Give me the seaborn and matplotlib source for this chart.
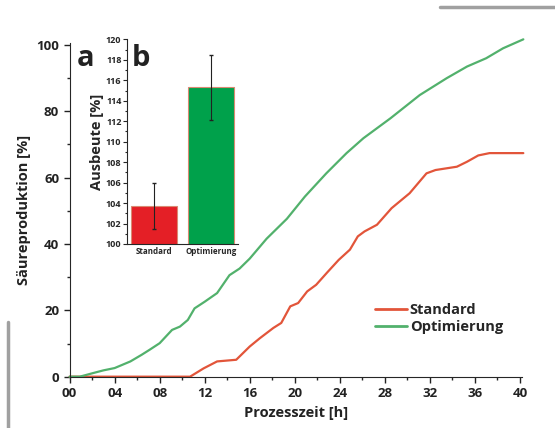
import numpy as np
import pandas as pd
import matplotlib
matplotlib.use("Agg")
import matplotlib.pyplot as plt
import seaborn as sns

# Säureproduktion über die Prozesszeit
std_time = [0, 10.7, 11.9, 13.1, 14.8, 16.0, 16.9, 18.1, 18.8, 19.6, 20.3, 21.1, 21.9,
            22.9, 23.9, 24.9, 25.6, 26.2, 27.3, 28.6, 30.2, 31.7, 32.5, 34.4, 35.3,
            36.3, 37.3, 40.3]
std_acid = [0, 0, 2.5, 4.6, 5.1, 9.1, 11.6, 14.7, 16.2, 21.2, 22.2, 25.7, 27.7,
            31.5, 35.2, 38.3, 42.3, 43.8, 45.8, 50.8, 55.3, 61.3, 62.3, 63.3, 64.8,
            66.7, 67.4, 67.4]

opt_time = [0, 0.9, 2.1, 3.0, 4.0, 5.4, 6.4, 7.1, 8.0, 9.1, 9.8, 10.5, 11.1, 12.0,
            13.1, 14.2, 15.1, 16.0, 17.5, 19.3, 20.9, 22.8, 24.6, 26.1, 28.5, 31.1,
            33.5, 35.3, 37.0, 38.5, 40.3]
opt_acid = [0, 0, 1.1, 1.9, 2.6, 4.6, 6.6, 8.1, 10.1, 14.1, 15.1, 17.1, 20.6, 22.6,
            25.2, 30.6, 32.6, 35.6, 41.6, 47.6, 54.3, 61.3, 67.4, 71.9, 77.9, 84.9,
            90.0, 93.5, 96.0, 99.0, 101.7]

# Ausbeute (Inset b)
yield_groups = ["Standard", "Optimierung"]
yield_mean = [103.7, 115.3]
yield_err = [2.25, 3.15]

x_ticks = list(range(0, 41, 4))
x_ticklabels = [f"{t:02d}" for t in x_ticks]

sns.set_style("ticks")
plt.rcParams['font.family'] = ['Open Sans', 'DejaVu Sans']
plt.rcParams['font.weight'] = 'bold'

line_red = "#e2553a"
line_green = "#52b16c"

df = pd.concat([
    pd.DataFrame({"t": std_time, "acid": std_acid, "Gruppe": "Standard"}),
    pd.DataFrame({"t": opt_time, "acid": opt_acid, "Gruppe": "Optimierung"}),
])

fig = plt.figure(figsize=(5.55, 4.28), dpi=100)
ax = fig.add_axes([0.1254, 0.1199, 0.8155, 0.7789])
sns.lineplot(data=df, x="t", y="acid", hue="Gruppe", ax=ax,
             palette={"Standard": line_red, "Optimierung": line_green},
             linewidth=1.6, sort=False)
for ln in ax.get_lines():
    ln.set_clip_on(False)
ax.set_xlim(0, 40.2)
ax.set_ylim(0, 100.5)
ax.set_xticks(x_ticks)
ax.set_xticklabels(x_ticklabels)
ax.set_xticks(range(2, 40, 4), minor=True)
ax.set_yticks([0, 20, 40, 60, 80, 100])
ax.set_yticks([10, 30, 50, 70, 90], minor=True)
ax.tick_params(axis="both", labelsize=9.5, width=1, length=4, colors="#222222")
ax.tick_params(which="minor", length=2.5, width=1)
for lab in ax.get_xticklabels() + ax.get_yticklabels():
    lab.set_fontweight("bold")
ax.set_xlabel("Prozesszeit [h]", fontsize=10.5, fontweight="bold", color="#222222")
ax.set_ylabel("Säureproduktion [%]", fontsize=10.5, fontweight="bold", color="#222222")
sns.despine(ax=ax)
leg = ax.legend(loc="upper left", bbox_to_anchor=(0.645, 0.26), frameon=False,
                handlelength=2.2, handletextpad=0.2, labelspacing=0.2,
                prop={"size": 10.5, "weight": "bold"})
for h in leg.get_lines():
    h.set_linewidth(2)

fig.text(0.138, 0.845, "a", fontsize=21, fontweight="bold", color="#222222")
fig.text(0.238, 0.845, "b", fontsize=21, fontweight="bold", color="#222222")

# Inset
ins = fig.add_axes([0.2288, 0.43, 0.2, 0.478])
bar_df = pd.DataFrame({"Gruppe": yield_groups, "Ausbeute": yield_mean})
sns.barplot(data=bar_df, x="Gruppe", y="Ausbeute", hue="Gruppe", ax=ins,
            palette=["#e41f26", "#00a14b"], saturation=1, width=0.8, legend=False,
            edgecolor="#d98a72", linewidth=0.8)
ins.errorbar(range(len(yield_groups)), yield_mean, yerr=yield_err, fmt="none",
             ecolor="#222222", elinewidth=0.8, capsize=1.2)
ins.set_ylim(100, 120)
ins.set_xlim(-0.47, 1.47)
ins.set_yticks(range(100, 121, 2))
ins.set_yticks(range(101, 120, 2), minor=True)
ins.tick_params(axis="y", labelsize=6.5, length=3, width=0.8, pad=1)
ins.tick_params(axis="y", which="minor", length=1.8, width=0.8)
ins.tick_params(axis="x", labelsize=5.8, length=0, pad=2)
for lab in ins.get_xticklabels() + ins.get_yticklabels():
    lab.set_fontweight("bold")
ins.set_xlabel("")
ins.set_ylabel("Ausbeute [%]", fontsize=10.5, fontweight="bold", labelpad=1)
ins.set_facecolor("none")
sns.despine(ax=ins)

# graue Randlinien
fig.add_artist(plt.Line2D([0.792, 1.0], [0.983, 0.983], color="#a0a0a0", lw=2.5))
fig.add_artist(plt.Line2D([0.0145, 0.0145], [0.0, 0.248], color="#a0a0a0", lw=2.5))

fig.savefig("out.png", dpi=100)
